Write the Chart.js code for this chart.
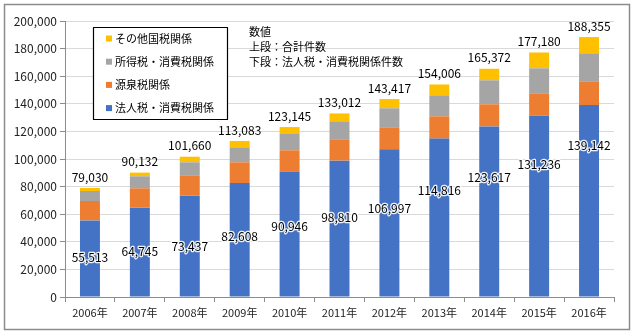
<!DOCTYPE html>
<html>
<head>
<meta charset="utf-8">
<script src="https://cdn.jsdelivr.net/npm/chart.js@4"></script>
<style>
  html, body { margin: 0; padding: 0; background: #fff; }
  #wrap { width: 633px; height: 335px; }
</style>
</head>
<body>
<div id="wrap"><canvas id="c" width="633" height="335"></canvas></div>
<script>
const years = ['2006年', '2007年', '2008年', '2009年', '2010年', '2011年', '2012年', '2013年', '2014年', '2015年', '2016年'];
const hojin = [55513, 64745, 73437, 82608, 90946, 98810, 106997, 114816, 123617, 131236, 139142];
const gensen = [14050, 14020, 14750, 15000, 15360, 15470, 15970, 16130, 16020, 16370, 17160];
const shotoku = [7240, 8700, 9420, 10870, 12320, 13040, 13770, 15220, 17390, 18120, 20290];
const totals = [79030, 90132, 101660, 113083, 123145, 133012, 143417, 154006, 165372, 177180, 188355];
// その他 = 合計 - 残り
const sonota = totals.map((t, i) => t - hojin[i] - gensen[i] - shotoku[i]);

const FONT = '"Noto Sans CJK JP", "Noto Sans", sans-serif';

const frame = {
    id: 'frame',
    beforeDraw: (chart) => {
        const { ctx } = chart;
        ctx.save();
        ctx.fillStyle = '#fff';
        ctx.fillRect(0, 0, chart.width, chart.height);
        ctx.strokeStyle = '#8c8c8c';
        ctx.lineWidth = 1.5;
        ctx.strokeRect(4.5, 4.5, 625, 325);
        ctx.restore();
    }
};

// 合計 and 法人税 labels, box legend, note
const labels = {
    id: 'labels',
    afterDatasetsDraw: (chart, args, opts) => {
        const { ctx } = chart;
        const y = chart.scales.y;
        const blueMeta = chart.getDatasetMeta(0);
        const topMeta = chart.getDatasetMeta(3);
        ctx.save();
        ctx.font = '12px ' + FONT;
        ctx.textAlign = 'center';
        ctx.textBaseline = 'middle';
        ctx.lineJoin = 'round';
        totals.forEach((t, i) => {
            const bar = topMeta.data[i];
            ctx.fillStyle = '#000';
            ctx.fillText(t.toLocaleString('en-US'), bar.x, bar.y - 11);
        });
        hojin.forEach((v, i) => {
            const bar = blueMeta.data[i];
            const py = y.getPixelForValue(v * opts.frac[i]);
            const s = v.toLocaleString('en-US');
            ctx.strokeStyle = 'rgba(255,255,255,0.9)';
            ctx.lineWidth = 2.5;
            ctx.strokeText(s, bar.x, py);
            ctx.fillStyle = '#000';
            ctx.fillText(s, bar.x, py);
        });

        // legend box
        ctx.strokeStyle = '#000';
        ctx.lineWidth = 1.2;
        ctx.fillStyle = '#fff';
        ctx.fillRect(93, 27, 134, 92);
        ctx.strokeRect(93.5, 27.5, 134, 92);
        ctx.font = '11px ' + FONT;
        ctx.textAlign = 'left';
        const ds = chart.data.datasets;
        [3, 2, 1, 0].forEach((d, k) => {
            const cy = 38.5 + k * 23.2;
            ctx.fillStyle = ds[d].backgroundColor;
            ctx.fillRect(106, cy - 3, 6, 6);
            ctx.fillStyle = '#000';
            ctx.fillText(ds[d].label, 115, cy);
        });

        // note
        ctx.fillText('数値', 249, 32);
        ctx.fillText('上段：合計件数', 249, 47);
        ctx.fillText('下段：法人税・消費税関係件数', 249, 62);
        ctx.restore();
    }
};

new Chart(document.getElementById('c'), {
    type: 'bar',
    data: {
        labels: years,
        datasets: [
            { label: '法人税・消費税関係', data: hojin, backgroundColor: '#4472C4' },
            { label: '源泉税関係', data: gensen, backgroundColor: '#ED7D31' },
            { label: '所得税・消費税関係', data: shotoku, backgroundColor: '#A5A5A5' },
            { label: 'その他国税関係', data: sonota, backgroundColor: '#FFC000' }
        ]
    },
    options: {
        responsive: false,
        animation: false,
        datasets: { bar: { barPercentage: 0.4, categoryPercentage: 1.0, borderWidth: 0 } },
        layout: { padding: { top: 21, right: 19, bottom: 8, left: 0 } },
        plugins: {
            legend: { display: false },
            tooltip: { enabled: false },
            labels: { frac: [0.52, 0.51, 0.50, 0.53, 0.56, 0.58, 0.60, 0.67, 0.70, 0.73, 0.79] }
        },
        scales: {
            x: {
                stacked: true,
                grid: { display: true, drawOnChartArea: false, drawTicks: true, tickLength: 5, color: '#8c8c8c', offset: true },
                border: { color: '#8c8c8c' },
                ticks: { color: '#222', font: { family: FONT, size: 11 }, padding: 4, maxRotation: 0 },
                afterFit: (s) => { s.height = 30; }
            },
            y: {
                stacked: true,
                min: 0,
                max: 200000,
                grid: { color: '#d9d9d9', tickLength: 5, tickColor: '#8c8c8c' },
                border: { color: '#8c8c8c' },
                ticks: {
                    stepSize: 20000,
                    color: '#222',
                    font: { family: FONT, size: 12 },
                    padding: 3,
                    callback: (v) => v.toLocaleString('en-US')
                },
                afterFit: (s) => { s.width = 65; }
            }
        }
    },
    plugins: [frame, labels]
});
</script>
</body>
</html>
